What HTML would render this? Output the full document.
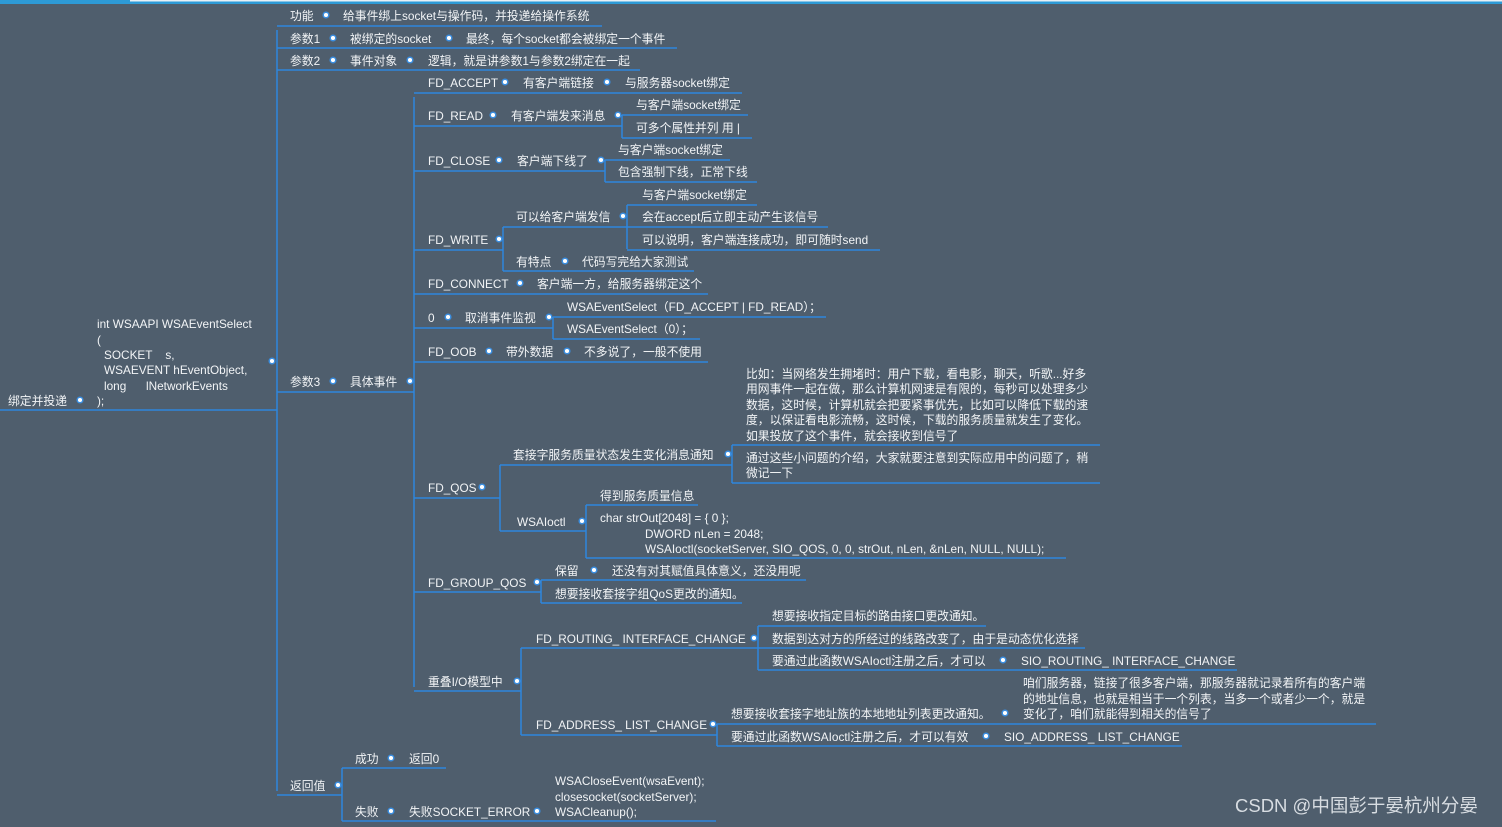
<!DOCTYPE html>
<html><head><meta charset="utf-8"><style>
html,body{margin:0;padding:0;background:#4f5e6d;width:1502px;height:827px;overflow:hidden}
svg{display:block}
text{font-family:"Liberation Sans","Noto Sans CJK SC",sans-serif;font-size:11.8px;fill:#f2f4f6;white-space:pre}
.l{stroke:#2f86dd;stroke-width:1.5;fill:none}
.d{fill:#fff;stroke:#3b8ee0;stroke-width:1.5}
</style></head><body>
<svg width="1502" height="827" xmlns="http://www.w3.org/2000/svg" xml:space="preserve">
<rect x="0" y="0" width="1502" height="4" fill="#2d9ad6"/>
<rect x="130" y="0" width="1372" height="1.5" fill="#e8f0f6"/>
<g class="l">
<path d="M0 410H277"/>
<path d="M277 30V791"/>
<path d="M277 26H602M277 48H677M277 70H640M277 392H414M277 795H342"/>
<path d="M414 97V687"/>
<path d="M414 93H742M414 126H622M622 115V138M622 115H748M622 138H752"/>
<path d="M414 171H605M605 160V182M605 160H730M605 182H757"/>
<path d="M414 250H503M503 227V271M503 227H627M627 205V249M627 205H757M627 227H828M627 250H880M503 271H694"/>
<path d="M414 294H708"/>
<path d="M414 328H553M553 317V339M553 317H826M553 339H700"/>
<path d="M414 362H708"/>
<path d="M414 498H500M500 465V531M500 465H732M732 445V483M732 445H1100M732 483H1100"/>
<path d="M500 531H586M586 505V558M586 505H698M586 558H1066"/>
<path d="M414 592H541M541 580V603M541 580H806M541 603H742"/>
<path d="M414 691H521M521 648V735M521 648H758M758 626V670M758 626H986M758 648H1085M758 670H1237"/>
<path d="M521 735H717M717 724V746M717 724H1376M717 746H1182"/>
<path d="M342 768V821M342 768H446M342 821H716"/>
</g>
<g class="d">
<circle cx="80" cy="400" r="2.8"/><circle cx="272" cy="361" r="2.8"/>
<circle cx="326" cy="15" r="2.8"/><circle cx="333" cy="38" r="2.8"/><circle cx="449" cy="38" r="2.8"/>
<circle cx="333" cy="60" r="2.8"/><circle cx="410" cy="60" r="2.8"/>
<circle cx="333" cy="381" r="2.8"/><circle cx="410" cy="381" r="2.8"/><circle cx="338" cy="785" r="2.8"/>
<circle cx="505" cy="82" r="2.8"/><circle cx="607" cy="82" r="2.8"/>
<circle cx="493" cy="115" r="2.8"/><circle cx="618" cy="115" r="2.8"/>
<circle cx="499" cy="160" r="2.8"/><circle cx="601" cy="160" r="2.8"/>
<circle cx="499" cy="239" r="2.8"/><circle cx="623" cy="216" r="2.8"/><circle cx="565" cy="261" r="2.8"/>
<circle cx="520" cy="283" r="2.8"/>
<circle cx="448" cy="317" r="2.8"/><circle cx="549" cy="317" r="2.8"/>
<circle cx="489" cy="351" r="2.8"/><circle cx="567" cy="351" r="2.8"/>
<circle cx="482" cy="487" r="2.8"/><circle cx="728" cy="454" r="2.8"/><circle cx="582" cy="521" r="2.8"/>
<circle cx="537" cy="582" r="2.8"/><circle cx="594" cy="570" r="2.8"/>
<circle cx="517" cy="681" r="2.8"/><circle cx="754" cy="638" r="2.8"/><circle cx="1003" cy="660" r="2.8"/>
<circle cx="713" cy="724" r="2.8"/><circle cx="1005" cy="713" r="2.8"/><circle cx="986" cy="736" r="2.8"/>
<circle cx="391" cy="758" r="2.8"/><circle cx="391" cy="811" r="2.8"/><circle cx="537" cy="811" r="2.8"/>
</g>
<g>
<text x="8" y="405">绑定并投递</text>
<text x="97" y="328">int WSAAPI WSAEventSelect</text>
<text x="97" y="344">(</text>
<text x="104" y="359">SOCKET    s,</text>
<text x="104" y="374">WSAEVENT hEventObject,</text>
<text x="104" y="390">long      lNetworkEvents</text>
<text x="97" y="405">);</text>
<text x="290" y="20">功能</text><text x="343" y="20">给事件绑上socket与操作码，并投递给操作系统</text>
<text x="290" y="43">参数1</text><text x="350" y="43">被绑定的socket</text><text x="466" y="43">最终，每个socket都会被绑定一个事件</text>
<text x="290" y="65">参数2</text><text x="350" y="65">事件对象</text><text x="428" y="65">逻辑，就是讲参数1与参数2绑定在一起</text>
<text x="290" y="386">参数3</text><text x="350" y="386">具体事件</text>
<text x="290" y="790">返回值</text>
<text x="428" y="87">FD_ACCEPT</text><text x="523" y="87">有客户端链接</text><text x="625" y="87">与服务器socket绑定</text>
<text x="428" y="120">FD_READ</text><text x="511" y="120">有客户端发来消息</text><text x="636" y="109">与客户端socket绑定</text><text x="636" y="132">可多个属性并列 用 |</text>
<text x="428" y="165">FD_CLOSE</text><text x="517" y="165">客户端下线了</text><text x="618" y="154">与客户端socket绑定</text><text x="618" y="176">包含强制下线，正常下线</text>
<text x="428" y="244">FD_WRITE</text><text x="516" y="221">可以给客户端发信</text><text x="642" y="199">与客户端socket绑定</text><text x="642" y="221">会在accept后立即主动产生该信号</text><text x="642" y="244">可以说明，客户端连接成功，即可随时send</text>
<text x="516" y="266">有特点</text><text x="582" y="266">代码写完给大家测试</text>
<text x="428" y="288">FD_CONNECT</text><text x="537" y="288">客户端一方，给服务器绑定这个</text>
<text x="428" y="322">0</text><text x="465" y="322">取消事件监视</text><text x="567" y="311">WSAEventSelect（FD_ACCEPT | FD_READ）；</text><text x="567" y="333">WSAEventSelect（0）；</text>
<text x="428" y="356">FD_OOB</text><text x="506" y="356">带外数据</text><text x="584" y="356">不多说了，一般不使用</text>
<text x="746" y="378">比如：当网络发生拥堵时：用户下载，看电影，聊天，听歌...好多</text>
<text x="746" y="393">用网事件一起在做，那么计算机网速是有限的，每秒可以处理多少</text>
<text x="746" y="409">数据，这时候，计算机就会把要紧事优先，比如可以降低下载的速</text>
<text x="746" y="424">度，以保证看电影流畅，这时候，下载的服务质量就发生了变化。</text>
<text x="746" y="440">如果投放了这个事件，就会接收到信号了</text>
<text x="746" y="462">通过这些小问题的介绍，大家就要注意到实际应用中的问题了，稍</text>
<text x="746" y="477">微记一下</text>
<text x="513" y="459">套接字服务质量状态发生变化消息通知</text>
<text x="428" y="492">FD_QOS</text>
<text x="517" y="526">WSAIoctl</text><text x="600" y="500">得到服务质量信息</text>
<text x="600" y="522">char strOut[2048] = { 0 };</text>
<text x="645" y="538">DWORD nLen = 2048;</text>
<text x="645" y="553">WSAIoctl(socketServer, SIO_QOS, 0, 0, strOut, nLen, &amp;nLen, NULL, NULL);</text>
<text x="428" y="587">FD_GROUP_QOS</text><text x="555" y="575">保留</text><text x="612" y="575">还没有对其赋值具体意义，还没用呢</text><text x="555" y="598">想要接收套接字组QoS更改的通知。</text>
<text x="428" y="686">重叠I/O模型中</text>
<text x="536" y="643">FD_ROUTING_ INTERFACE_CHANGE</text>
<text x="772" y="620">想要接收指定目标的路由接口更改通知。</text>
<text x="772" y="643">数据到达对方的所经过的线路改变了，由于是动态优化选择</text>
<text x="772" y="665">要通过此函数WSAIoctl注册之后，才可以</text><text x="1021" y="665">SIO_ROUTING_ INTERFACE_CHANGE</text>
<text x="536" y="729">FD_ADDRESS_ LIST_CHANGE</text>
<text x="731" y="718">想要接收套接字地址族的本地地址列表更改通知。</text>
<text x="1023" y="687">咱们服务器，链接了很多客户端，那服务器就记录着所有的客户端</text>
<text x="1023" y="703">的地址信息，也就是相当于一个列表，当多一个或者少一个，就是</text>
<text x="1023" y="718">变化了，咱们就能得到相关的信号了</text>
<text x="731" y="741">要通过此函数WSAIoctl注册之后，才可以有效</text><text x="1004" y="741">SIO_ADDRESS_ LIST_CHANGE</text>
<text x="355" y="763">成功</text><text x="409" y="763">返回0</text>
<text x="355" y="816">失败</text><text x="409" y="816">失败SOCKET_ERROR</text>
<text x="555" y="785">WSACloseEvent(wsaEvent);</text>
<text x="555" y="801">closesocket(socketServer);</text>
<text x="555" y="816">WSACleanup();</text>
<text x="1235" y="812" style="font-size:18.5px;fill:#d8dde2">CSDN @中国彭于晏杭州分晏</text>
</g>
</svg>
</body></html>
